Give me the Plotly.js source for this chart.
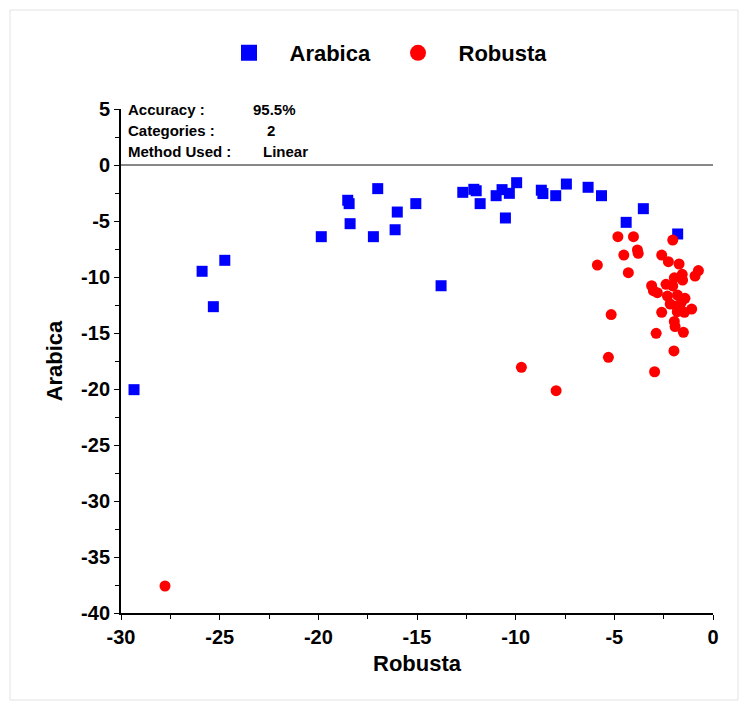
<!DOCTYPE html>
<html>
<head>
<meta charset="utf-8">
<script src="https://cdn.plot.ly/plotly-3.0.1.min.js"></script>
<style>
  html, body { margin: 0; padding: 0; background: #ffffff; }
  #chart { width: 741px; height: 702px; }
</style>
</head>
<body>
<div id="chart"></div>
<script>
// ---- Data ----
const seriesNames = ["Arabica", "Robusta"];

const arabicaX = [-29.34, -25.89, -24.74, -25.32, -19.85, -18.51, -18.44, -18.39, -16.99, -17.21,
                  -16.00, -16.11, -15.06, -13.78, -12.68, -12.12, -12.00, -11.80, -10.99, -10.69,
                  -10.32, -9.95, -10.52, -8.70, -8.62, -7.97, -7.43, -6.33, -5.65, -3.53,
                  -4.40, -1.79];
const arabicaY = [-20.06, -9.49, -8.51, -12.65, -6.40, -3.15, -3.45, -5.24, -2.11, -6.40,
                  -4.20, -5.78, -3.45, -10.78, -2.44, -2.17, -2.30, -3.45, -2.74, -2.20,
                  -2.53, -1.58, -4.73, -2.25, -2.55, -2.74, -1.70, -1.99, -2.74, -3.90,
                  -5.12, -6.16];

const robustaX = [-4.82, -4.03, -2.04, -4.52, -3.83, -3.79, -5.86, -4.29, -2.60, -2.26,
                  -1.72, -0.74, -0.91, -1.56, -1.96, -1.54, -3.11, -3.02, -2.82, -2.38,
                  -2.04, -2.31, -1.80, -1.42, -1.60, -2.17, -1.84, -1.08, -1.45, -1.81,
                  -2.60, -1.96, -1.92, -1.50, -2.88, -5.16, -5.30, -1.98, -2.96, -9.71,
                  -7.95, -27.77];
const robustaY = [-6.40, -6.40, -6.70, -8.04, -7.59, -7.89, -8.93, -9.61, -8.04, -8.63,
                  -8.84, -9.43, -9.91, -9.76, -10.07, -10.27, -10.78, -11.22, -11.40, -10.65,
                  -10.80, -11.70, -11.61, -11.90, -12.26, -12.41, -12.59, -12.86, -13.15, -13.10,
                  -13.15, -13.97, -14.43, -14.94, -15.03, -13.35, -17.17, -16.60, -18.46, -18.06,
                  -20.15, -37.59];

const xTickVals = [-30, -25, -20, -15, -10, -5, 0];
const yTickVals = [5, 0, -5, -10, -15, -20, -25, -30, -35, -40];
const infoLabels = ["Accuracy :", "Categories :", "Method Used :"];
const infoValues = ["95.5%", "2", "Linear"];

// ---- Styling ----
const FONT = "Arial, 'Liberation Sans', sans-serif";
const BLUE = "#0000ff";
const RED = "#ff0000";

const traces = [
  { type: "scatter", mode: "markers", x: arabicaX, y: arabicaY, name: seriesNames[0],
    showlegend: false, cliponaxis: false,
    marker: { symbol: "square", size: 11, color: BLUE } },
  { type: "scatter", mode: "markers", x: robustaX, y: robustaY, name: seriesNames[1],
    showlegend: false, cliponaxis: false,
    marker: { symbol: "circle", size: 11, color: RED } },
  // legend entries
  { type: "scatter", mode: "markers", x: [null], y: [null], name: seriesNames[0],
    marker: { symbol: "square", size: 16, color: BLUE } },
  { type: "scatter", mode: "markers", x: [null], y: [null], name: seriesNames[1],
    marker: { symbol: "circle", size: 16, color: RED } }
];

const annotations = [];
const valueX = [-23.4, -22.7, -22.9];
infoLabels.forEach((lab, i) => {
  annotations.push({ xref: "x", yref: "paper", x: -29.75, y: 1 - i * 21 / 504 - 0.001,
    yanchor: "middle", xanchor: "left", text: "<b>" + lab + "</b>", showarrow: false,
    font: { family: FONT, size: 15, color: "#000" } });
  annotations.push({ xref: "x", yref: "paper", x: valueX[i], y: 1 - i * 21 / 504 - 0.001,
    yanchor: "middle", xanchor: "left", text: "<b>" + infoValues[i] + "</b>", showarrow: false,
    font: { family: FONT, size: 15, color: "#000" } });
});

const layout = {
  width: 741, height: 702,
  margin: { l: 121, r: 28, t: 109, b: 89, pad: 0 },
  paper_bgcolor: "#ffffff", plot_bgcolor: "#ffffff",
  font: { family: FONT, color: "#000" },
  showlegend: true,
  legend: { orientation: "h", x: 87.5 / 592, y: 1.111, xanchor: "left", yanchor: "middle",
            font: { family: FONT, size: 22, color: "#000", weight: "bold" },
            itemwidth: 71, entrywidth: 83, bgcolor: "rgba(0,0,0,0)" },
  xaxis: {
    range: [-30, 0], tickvals: xTickVals, ticktext: xTickVals.map(String),
    showgrid: false, zeroline: false, showline: true, linecolor: "#000", linewidth: 2,
    ticks: "outside", ticklen: 5, tickwidth: 1, tickcolor: "#000",
    tickfont: { family: FONT, size: 20, color: "#000", weight: "bold" },
    minor: { dtick: 2.5, tick0: 0, ticks: "outside", ticklen: 4, tickcolor: "#000", showgrid: false },
    title: { text: "<b>Robusta</b>", font: { family: FONT, size: 22, color: "#000" }, standoff: 9 }
  },
  yaxis: {
    range: [-40, 5], tickvals: yTickVals, ticktext: yTickVals.map(String),
    showgrid: false, zeroline: true, zerolinecolor: "#888", zerolinewidth: 1.5,
    showline: true, linecolor: "#000", linewidth: 2,
    ticks: "outside", ticklen: 5, tickwidth: 1, tickcolor: "#000",
    tickfont: { family: FONT, size: 20, color: "#000", weight: "bold" },
    minor: { dtick: 2.5, tick0: 0, ticks: "outside", ticklen: 4, tickcolor: "#000", showgrid: false },
    title: { text: "<b>Arabica</b>", font: { family: FONT, size: 22, color: "#000" }, standoff: 12 }
  },
  annotations: annotations,
  shapes: [
    { type: "rect", xref: "paper", yref: "paper",
      x0: (10 - 121) / 592, x1: (738 - 121) / 592, y0: (613 - 700) / 504, y1: (613 - 10) / 504,
      line: { color: "#e3e3e3", width: 1 }, fillcolor: "rgba(0,0,0,0)", layer: "below" }
  ]
};

Plotly.newPlot("chart", traces, layout, { staticPlot: true, displayModeBar: false });
</script>
</body>
</html>
